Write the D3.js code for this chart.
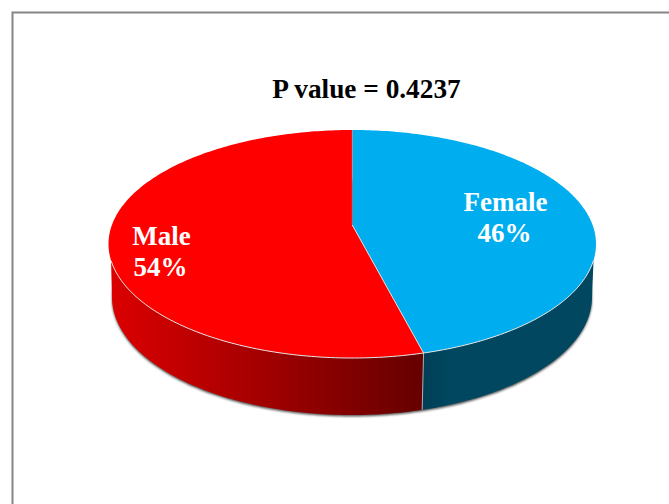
<!DOCTYPE html>
<html>
<head>
<meta charset="utf-8">
<script src="https://cdn.jsdelivr.net/npm/d3@7"></script>
<style>
html, body { margin: 0; padding: 0; background: #fff; overflow: hidden; }
svg { display: block; }
text { font-family: "Liberation Serif", serif; font-weight: bold; }
</style>
</head>
<body>
<div id="chart"></div>
<script>
var categories = ["Female", "Male"];
var values = [46, 54];
var percentLabels = ["46%", "54%"];
var title = "P value = 0.4237";

var width = 669, height = 504;

var svg = d3.select("#chart").append("svg")
    .attr("width", width)
    .attr("height", height);

var defs = svg.append("defs");

//side colours run left to right across the whole pie
var redSide = defs.append("linearGradient")
    .attr("id", "redSide")
    .attr("gradientUnits", "userSpaceOnUse")
    .attr("x1", 110).attr("x2", 422).attr("y1", 0).attr("y2", 0);
redSide.append("stop").attr("offset", "0").attr("stop-color", "#dc0000");
redSide.append("stop").attr("offset", "0.6").attr("stop-color", "#950000");
redSide.append("stop").attr("offset", "1").attr("stop-color", "#660000");

var blueSide = defs.append("linearGradient")
    .attr("id", "blueSide")
    .attr("gradientUnits", "userSpaceOnUse")
    .attr("x1", 422).attr("x2", 450).attr("y1", 0).attr("y2", 0);
blueSide.append("stop").attr("offset", "0").attr("stop-color", "#003f56");
blueSide.append("stop").attr("offset", "1").attr("stop-color", "#00475f");

defs.append("filter")
    .attr("id", "soft")
    .attr("x", "-5%").attr("y", "-5%").attr("width", "110%").attr("height", "110%")
    .append("feGaussianBlur").attr("stdDeviation", 1.3);

//frame, runs off the right and bottom of the picture
svg.append("rect")
    .attr("x", 12.5).attr("y", 12.5)
    .attr("width", 700).attr("height", 540)
    .attr("fill", "#fff")
    .attr("stroke", "#868686")
    .attr("stroke-width", 2);

//top face and bottom rim are both ellipses, u/v go from -1 to 1 inside them
var topX = d3.scaleLinear().domain([-1, 1]).range([108.5, 596]);
var topY = d3.scaleLinear().domain([-1, 1]).range([130, 358]);
var baseX = d3.scaleLinear().domain([-1, 1]).range([112, 592]);
var baseY = d3.scaleLinear().domain([-1, 1]).range([179, 415]);

//perspective: the centre of the pie sits above the centre of the ellipse
var k = 0.167;
function project(angle) {
    var u = Math.sin(angle), v = -Math.cos(angle);
    var d = 1 - k * v;
    return [u * Math.sqrt(1 - k * k) / d, (v - k) / d];
}

function samples(a0, a1) {
    var n = Math.max(2, Math.ceil((a1 - a0) * 60));
    return d3.range(n + 1).map(function (i) {
        return project(a0 + (a1 - a0) * i / n);
    });
}

var line = d3.line();
function onTop(p) { return [topX(p[0]), topY(p[1])]; }
function onBase(p) { return [baseX(p[0]), baseY(p[1])]; }

var pie = d3.pie().sort(null).value(function (d) { return d; });
var slices = pie(values);
var topColors = ["#00aeef", "#ff0000"];
var sideColors = ["url(#blueSide)", "url(#redSide)"];
var apex = onTop([0, -k]);
var silhouette = 0.14;

//shadow under the side wall
svg.append("path")
    .attr("d", line(samples(0, 2 * Math.PI).map(function (p) {
        return [baseX(p[0]), baseY(p[1]) + 1.5];
    })) + "Z")
    .attr("fill", "#555")
    .attr("filter", "url(#soft)");

var wall = svg.selectAll("path.wall").data(slices).enter().append("path")
    .attr("class", "wall")
    .attr("fill", function (d, i) { return sideColors[i]; })
    .attr("d", function (d) {
        var pts = samples(d.startAngle, d.endAngle);
        var up = pts.filter(function (p) { return p[1] >= silhouette; }).map(onTop);
        var down = pts.filter(function (p) { return p[1] >= 0; }).map(onBase).reverse();
        return line(up.concat(down)) + "Z";
    });

svg.selectAll("path.face").data(slices).enter().append("path")
    .attr("class", "face")
    .attr("fill", function (d, i) { return topColors[i]; })
    .attr("d", function (d) {
        return line([apex].concat(samples(d.startAngle, d.endAngle).map(onTop))) + "Z";
    });

//light edges: front rim, the slice borders and the seam on the wall
var seam = project(slices[0].endAngle);
var edges = svg.append("g")
    .attr("fill", "none")
    .attr("stroke", "#e6e6e6")
    .attr("stroke-width", 1);
edges.append("path")
    .attr("d", line(samples(0, 2 * Math.PI).filter(function (p) {
        return p[1] >= silhouette;
    }).map(onTop).sort(function (a, b) { return b[0] - a[0]; })));
edges.append("path").attr("d", line([apex, onTop(seam)]));
edges.append("path").attr("d", line([onTop(seam), onBase(seam)])).attr("stroke-opacity", 0.7);
edges.append("path").attr("d", line([apex, onTop(project(0))])).attr("stroke-opacity", 0.25);

svg.append("text")
    .attr("x", 366.5).attr("y", 98)
    .attr("text-anchor", "middle")
    .attr("font-size", 27.3)
    .attr("fill", "#000")
    .text(title);

//data labels, hand placed like in the original
var labelX = [505.5, 161.5];
var labelY = [210.5, 244.5];
var labels = svg.selectAll("g.label").data(categories).enter().append("g")
    .attr("class", "label")
    .attr("text-anchor", "middle")
    .attr("font-size", 27)
    .attr("fill", "#fff");
labels.append("text")
    .attr("x", function (d, i) { return labelX[i]; })
    .attr("y", function (d, i) { return labelY[i]; })
    .text(function (d) { return d; });
labels.append("text")
    .attr("x", function (d, i) { return labelX[i] - 1; })
    .attr("y", function (d, i) { return labelY[i] + 31; })
    .text(function (d, i) { return percentLabels[i]; });
</script>
</body>
</html>
